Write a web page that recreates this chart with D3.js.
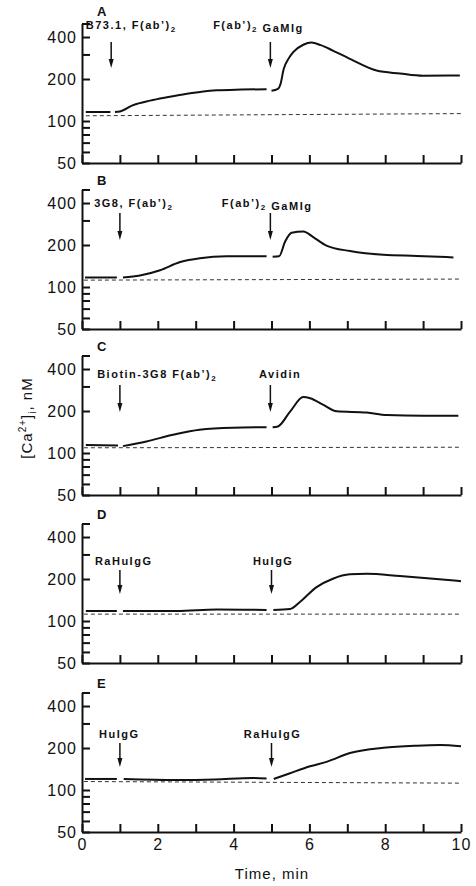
<!DOCTYPE html>
<html>
<head>
<meta charset="utf-8">
<script src="https://cdn.jsdelivr.net/npm/d3@7"></script>
<style>
  body { margin: 0; background: #fff; }
  svg { display: block; }
  .axis path, .axis line { stroke: #111; stroke-width: 2; }
  .axis text { font-family: "Liberation Sans", Arial, sans-serif; font-size: 16px; letter-spacing: 1px; fill: #111; }
  .agent { font-family: "Liberation Sans", Arial, sans-serif; font-size: 11px; font-weight: bold; letter-spacing: 1.5px; fill: #111; }
  .letter { font-family: "Liberation Sans", Arial, sans-serif; font-size: 13px; font-weight: bold; fill: #111; }
  .title { font-family: "Liberation Sans", Arial, sans-serif; font-size: 15px; letter-spacing: 1px; fill: #111; }
</style>
</head>
<body>
<svg id="chart"></svg>
<script>
const width = 476;
const height = 886;

// axes
const timeTicks = [0, 1, 2, 3, 4, 5, 6, 7, 8, 9, 10];
const timeLabels = [0, 2, 4, 6, 8, 10];
const caTicks = [50, 60, 70, 80, 90, 100, 200, 300, 400, 500];
const caLabels = [50, 100, 200, 400];

// panels and stimuli
const panelNames = ["A", "B", "C", "D", "E"];
const firstAgents = ["B73.1, F(ab’)₂", "3G8, F(ab’)₂", "Biotin-3G8 F(ab’)₂", "RaHuIgG", "HuIgG"];
const secondAgents = ["F(ab’)₂ GaMIg", "F(ab’)₂ GaMIg", "Avidin", "HuIgG", "RaHuIgG"];
const firstTimes = [0.77, 1, 1, 1, 1];
const secondTimes = [4.97, 4.97, 4.97, 5, 5];

// [Ca2+]i traces (min, nM), one array per recorded segment
const traceA = [
  [[0.1, 116], [0.75, 116]],
  [[0.87, 116], [1.0, 117], [1.35, 130], [1.8, 140], [2.24, 148], [2.77, 157], [3.2, 163], [3.55, 166], [4.2, 168], [4.87, 169]],
  [[5.0, 165], [5.17, 170], [5.24, 185], [5.32, 235], [5.45, 280], [5.58, 313], [5.84, 352], [6.05, 365], [6.3, 350], [6.62, 320], [7.15, 272], [7.77, 230], [8.39, 219], [9.0, 211], [9.97, 212]]
];
const traceB = [
  [[0.08, 117], [0.92, 117]],
  [[1.08, 117], [1.53, 121], [2.06, 132], [2.59, 151], [3.11, 161], [3.82, 166], [4.87, 166]],
  [[5.03, 165], [5.2, 166], [5.36, 212], [5.53, 245], [5.84, 250], [6.1, 228], [6.45, 198], [7.07, 181], [7.95, 170], [8.83, 167], [9.8, 163]]
];
const traceC = [
  [[0.1, 114], [0.95, 113]],
  [[1.08, 112], [1.7, 121], [2.4, 135], [3.1, 147], [3.98, 152], [4.87, 153]],
  [[5.03, 153], [5.17, 155], [5.49, 198], [5.84, 252], [6.02, 247], [6.37, 221], [6.72, 199], [7.51, 195], [8.04, 187], [9.0, 185], [9.93, 185]]
];
const traceD = [
  [[0.1, 118], [0.92, 118]],
  [[1.08, 118], [2.5, 118], [3.55, 121], [4.87, 120]],
  [[5.05, 120], [5.49, 122], [5.75, 137], [6.19, 175], [6.62, 201], [7.07, 216], [7.51, 218], [8.39, 210], [9.27, 201], [10, 193]]
];
const traceE = [
  [[0.08, 120], [0.92, 120]],
  [[1.1, 120], [2.5, 118], [3.5, 119], [4.5, 122], [4.87, 121]],
  [[5.06, 120], [5.49, 132], [6.02, 148], [6.45, 159], [7.07, 184], [7.95, 201], [8.83, 208], [9.45, 210], [10, 206]]
];
const traces = [traceA, traceB, traceC, traceD, traceE];

// resting level (dashed reference)
const restA = [[0.1, 109], [10, 113]];
const restB = [[0.05, 112], [10, 114]];
const restC = [[0.05, 109], [10, 110]];
const restD = [[0.05, 112], [10, 112]];
const restE = [[0.05, 115], [10, 112]];
const rests = [restA, restB, restC, restD, restE];

// layout
const left = 82, right = 461, panelH = 139.5;
const bottoms = [163, 329, 495, 663, 832];
const labelDy = [5, 17.5, 22.5, 41.5, 45.5];
const letterDy = [-7.5, -5, -5, -5, -5];
const arrowDy = [[18.5, 44.5], [23.5, 50.5], [29.5, 56.5], [46.5, 70.5], [50.5, 74.5]];
const labelT = [[0.1, 3.46], [0.32, 3.69], [0.4, 4.67], [0.34, 4.51], [0.45, 4.27]];

const svg = d3.select("#chart").attr("width", width).attr("height", height);
const x = d3.scaleLinear().domain([0, 10]).range([left, right]);

function agentText(sel, str) {
  const parts = str.split("₂");
  parts.forEach((p, i) => {
    if (p) sel.append("tspan").text(p);
    if (i < parts.length - 1) {
      sel.append("tspan").attr("dy", 3).style("font-size", "8px").text("2");
      sel.append("tspan").attr("dy", -3).text("");
    }
  });
}

panelNames.forEach((name, i) => {
  const b = bottoms[i];
  const top = b - panelH;
  const y = d3.scaleLog().domain([50, 500]).range([b, top]);
  const g = svg.append("g");

  // dashed resting line
  g.append("path")
    .datum(rests[i])
    .attr("fill", "none")
    .attr("stroke", "#333")
    .attr("stroke-width", 1)
    .attr("stroke-dasharray", "4,3")
    .attr("d", d3.line().x((d) => x(d[0])).y((d) => y(d[1])));

  // traces
  const line = d3.line().x((d) => x(d[0])).y((d) => y(d[1])).curve(d3.curveMonotoneX);
  g.selectAll(".trace")
    .data(traces[i])
    .enter()
    .append("path")
    .attr("class", "trace")
    .attr("fill", "none")
    .attr("stroke", "#111")
    .attr("stroke-width", 2)
    .attr("d", line);

  // axes
  g.append("g")
    .attr("class", "axis")
    .attr("transform", `translate(${left},0)`)
    .call(
      d3.axisLeft(y)
        .tickValues(caTicks)
        .tickSizeInner(-8)
        .tickSizeOuter(0)
        .tickPadding(5)
        .tickFormat((d) => (caLabels.includes(d) ? d : ""))
    );
  g.append("g")
    .attr("class", "axis")
    .attr("transform", `translate(0,${b})`)
    .call(
      d3.axisBottom(x)
        .tickValues(timeTicks)
        .tickSizeInner(-8)
        .tickSizeOuter(0)
        .tickPadding(7)
        .tickFormat((d) => (i === 4 && timeLabels.includes(d) ? d : ""))
    );

  // panel letter
  g.append("text").attr("class", "letter").attr("x", 97).attr("y", top + letterDy[i]).text(name);

  // stimuli
  [firstAgents[i], secondAgents[i]].forEach((lab, k) => {
    agentText(
      g.append("text").attr("class", "agent").attr("x", x(labelT[i][k])).attr("y", top + labelDy[i]),
      lab
    );
    const ax = x(k === 0 ? firstTimes[i] : secondTimes[i]);
    const y0 = top + arrowDy[i][0], y1 = top + arrowDy[i][1];
    g.append("line")
      .attr("x1", ax).attr("x2", ax)
      .attr("y1", y0).attr("y2", y1 - 6)
      .attr("stroke", "#111").attr("stroke-width", 1.5);
    g.append("path")
      .attr("d", `M${ax - 2.5},${y1 - 9}L${ax + 2.5},${y1 - 9}L${ax},${y1}Z`)
      .attr("fill", "#111");
  });
});

// axis titles
svg.append("text")
  .attr("class", "title")
  .attr("text-anchor", "middle")
  .attr("x", 272)
  .attr("y", 879)
  .text("Time, min");

const yt = svg.append("text")
  .attr("class", "title")
  .attr("text-anchor", "middle")
  .attr("transform", "translate(32,418) rotate(-90)");
yt.append("tspan").text("[Ca");
yt.append("tspan").attr("dy", -6).style("font-size", "10px").text("2+");
yt.append("tspan").attr("dy", 6).text("]");
yt.append("tspan").attr("dy", 4).style("font-size", "10px").text("i");
yt.append("tspan").attr("dy", -4).text(", nM");
</script>
</body>
</html>
